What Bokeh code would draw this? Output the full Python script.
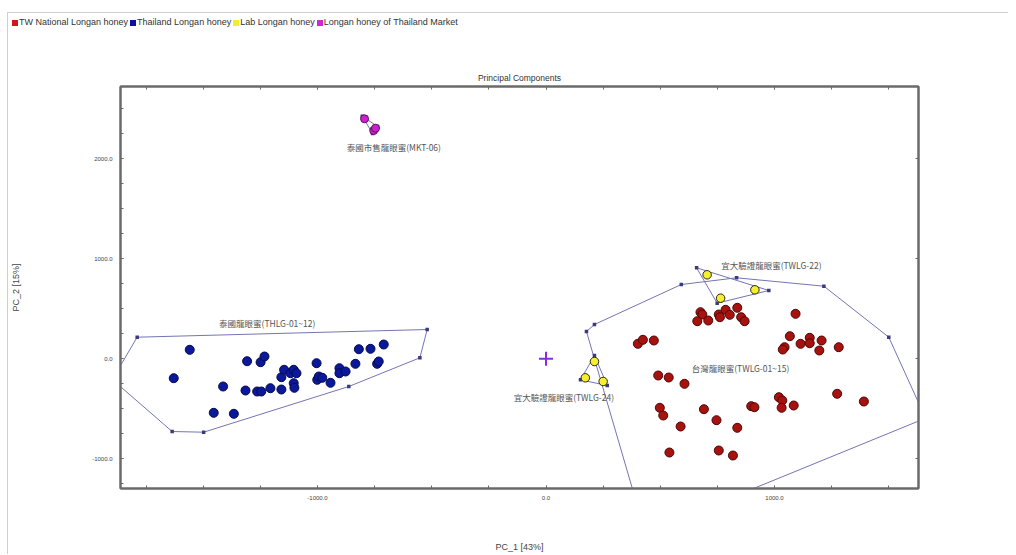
from bokeh.plotting import figure
from bokeh.models import LinearAxis, SingleIntervalTicker, PrintfTickFormatter, Div
from bokeh.layouts import column
from bokeh.core.properties import value
from bokeh.embed import file_html
from bokeh.resources import INLINE

# ---------------- data (PC scores) ----------------
tw_x = [676, 684, 662, 710, 756, 761, 786, 804, 837, 854, 869, 402, 424, 472, 1092, 1067, 1044, 1036,
        1114, 1154, 1154, 1206, 1196, 1281, 491, 537, 606, 498, 513, 589, 691, 746, 837, 898, 912,
        1019, 1034, 1031, 1084, 1274, 1391, 540, 756, 818]
tw_y = [466, 443, 376, 383, 443, 416, 490, 440, 510, 416, 376, 150, 190, 183, 450, 226, 116, 93,
        150, 210, 156, 183, 83, 116, -167, -187, -250, -490, -567, -677, -504, -614, -690, -474, -484,
        -384, -417, -490, -467, -350, -427, -937, -917, -967]

th_x = [-1559, -1629, -1454, -1366, -1413, -1315, -1308, -1249, -1232, -1264, -1246, -1206, -1158,
        -1158, -1146, -1118, -1104, -1092, -1104, -1101, -1004, -1001, -994, -979, -943, -904, -904,
        -877, -834, -819, -768, -710, -739, -732]
th_y = [90, -194, -540, -550, -277, -317, -24, -34, 23, -327, -327, -294, -307, -184, -110, -144,
        -110, -144, -244, -290, -44, -210, -177, -190, -240, -94, -144, -127, -50, 96, 100, 143, -50, -27]

lab22_x = [705, 764, 914]
lab22_y = [840, 606, 690]
lab24_x = [212, 172, 250]
lab24_y = [-27, -190, -227]

mkt_x = [-794, -754, -746]
mkt_y = [2400, 2283, 2306]

# convex hulls of the groups
tw_hull_x = [177, 212, 592, 834, 1216, 1500, 1661, 812, 383, 177]
tw_hull_y = [273, 343, 743, 810, 726, 216, -594, -1387, -1337, 273]
th_hull_x = [-1789, -520, -552, -863, -1498, -1636, -1898, -1789]
th_hull_y = [216, 293, 10, -277, -734, -727, -207, 216]
lab22_hull_x = [659, 975, 749, 659]
lab22_hull_y = [910, 683, 556, 910]
lab24_hull_x = [212, 268, 151, 212]
lab24_hull_y = [33, -267, -210, 33]
mkt_hull_x = [-804, -737, -759, -804]
mkt_hull_y = [2426, 2323, 2253, 2426]

group_names = ["泰國市售龍眼蜜(MKT-06)", "泰國龍眼蜜(THLG-01~12)", "宜大驗證龍眼蜜(TWLG-22)",
               "台灣龍眼蜜(TWLG-01~15)", "宜大驗證龍眼蜜(TWLG-24)"]
name_x = [-666, -1220, 986, 851, 78]
name_y = [2116, 360, 936, -90, -384]

legend_labels = ["TW National Longan honey", "Thailand Longan honey", "Lab Longan honey",
                 "Longan honey of Thailand Market"]
legend_colors = ["#d0161b", "#0a149c", "#f2ee2a", "#d424d4"]

# ---------------- legend strip (HTML) ----------------
FONT = "Liberation Sans"
spans = "".join(
    f'<span style="display:inline-block;width:6px;height:6px;background:{c};'
    f'margin-right:1px;vertical-align:-1px"></span>'
    f'<span style="margin-right:2px">{t}</span>'
    for t, c in zip(legend_labels, legend_colors))
legend_div = Div(text=f'<div style="font-family:\'{FONT}\';font-size:9px;line-height:9px;'
                      f'color:#333;white-space:nowrap;padding:1px 0 0 4px">{spans}</div>',
                 width=1000, height=16, margin=0)

# ---------------- figure ----------------
p = figure(width=1000, height=525, x_range=(-1862, 1630), y_range=(-1297, 2723),
           output_backend="svg", toolbar_location=None, margin=0,
           min_border_left=110, min_border_right=90, min_border_top=57, min_border_bottom=66,
           x_axis_label="PC_1 [43%]", y_axis_label="PC_2 [15%]")
p.background_fill_color = "white"
p.border_fill_color = "white"
p.xgrid.visible = False
p.ygrid.visible = False
p.outline_line_color = "#6a6a6a"
p.outline_line_width = 2

p.title.text = "Principal Components"
p.title.align = "center"
p.title.text_font = FONT
p.title.text_font_size = "8.5px"
p.title.text_font_style = "normal"
p.title.text_color = "#333333"
p.title.standoff = 8

def style_axis(ax, labels=True):
    ax.ticker = SingleIntervalTicker(interval=1000, num_minor_ticks=4)
    ax.formatter = PrintfTickFormatter(format="%.1f")
    ax.axis_line_color = "#6a6a6a"
    ax.axis_line_width = 2
    ax.major_tick_line_color = "#6a6a6a"
    ax.minor_tick_line_color = "#6a6a6a"
    ax.major_tick_in = 3
    ax.major_tick_out = 0
    ax.minor_tick_in = 3
    ax.minor_tick_out = 0
    ax.major_label_text_font = FONT
    ax.major_label_text_font_size = "6px"
    ax.major_label_text_color = "#444444" if labels else None
    ax.axis_label_text_font = FONT
    ax.axis_label_text_font_size = "9px"
    ax.axis_label_text_font_style = "normal"
    ax.axis_label_text_color = "#444444"
    if not labels:
        ax.major_label_standoff = 0

style_axis(p.xaxis[0])
style_axis(p.yaxis[0])
p.xaxis[0].major_label_standoff = 7
p.xaxis[0].axis_label_standoff = 39
p.yaxis[0].major_label_standoff = 8
p.yaxis[0].axis_label_standoff = 68

top = LinearAxis()
style_axis(top, labels=False)
right = LinearAxis()
style_axis(right, labels=False)
right.minor_tick_in = 0
p.add_layout(top, "above")
p.add_layout(right, "right")

# hulls
hull_line = "#7474b4"
for hx, hy in [(tw_hull_x, tw_hull_y), (th_hull_x, th_hull_y), (lab22_hull_x, lab22_hull_y),
               (lab24_hull_x, lab24_hull_y), (mkt_hull_x, mkt_hull_y)]:
    p.line(hx, hy, line_color=hull_line, line_width=1)
    p.scatter(hx[:-1], hy[:-1], size=3.5, marker="square", fill_color="#3a3a82", line_color=None)

# points
p.scatter(tw_x, tw_y, size=9, fill_color="#a8120e", line_color="#4a0808", line_width=1)
p.scatter(th_x, th_y, size=9, fill_color="#0c189a", line_color="#050a50", line_width=1)
p.scatter(lab22_x + lab24_x, lab22_y + lab24_y, size=8.5, fill_color="#f4f030",
          line_color="#2a2a10", line_width=1)
p.scatter(mkt_x, mkt_y, size=8, fill_color="#cc22cc", line_color="#601060", line_width=1)

# origin marker
p.scatter([0], [0], marker="cross", size=14, line_color="#8a2be2", line_width=2)

# group names
p.text(name_x, name_y, text=group_names, text_font=value("Noto Sans CJK TC"),
       text_font_size="8.5px", text_color="#555555", text_align="center", text_baseline="middle")

layout = column(legend_div, p, margin=(12, 0, 0, 7), spacing=0,
                styles={"border-top": "1px solid #cfcfcf", "border-left": "1px solid #cfcfcf"})

open("out.html", "w").write(file_html(layout, INLINE))
